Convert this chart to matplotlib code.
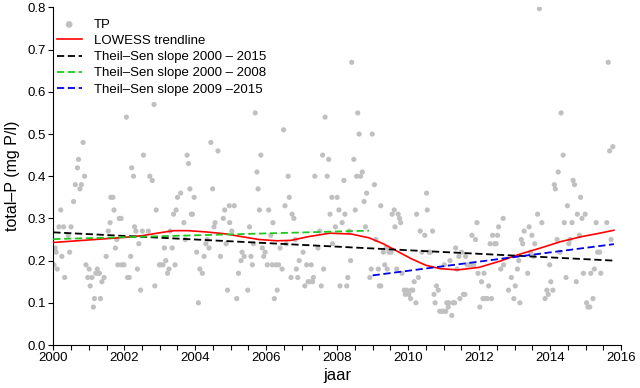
import matplotlib
matplotlib.use("Agg")
import matplotlib.pyplot as plt
from matplotlib.ticker import MultipleLocator, FormatStrFormatter

plt.rcParams['font.family'] = ['Liberation Sans', 'DejaVu Sans']

jaar_tp = [
    2000.02, 2000.05, 2000.08, 2000.11, 2000.16, 2000.21, 2000.24, 2000.29, 2000.32, 2000.42,
    2000.46, 2000.50, 2000.57, 2000.62, 2000.68, 2000.71, 2000.75, 2000.79, 2000.84, 2000.88,
    2000.92, 2000.97, 2001.01, 2001.04, 2001.09, 2001.13, 2001.16, 2001.20, 2001.24, 2001.27,
    2001.30, 2001.33, 2001.37, 2001.43, 2001.49, 2001.55, 2001.60, 2001.62, 2001.68, 2001.71,
    2001.75, 2001.79, 2001.82, 2001.86, 2001.91, 2001.93, 2001.99, 2002.06, 2002.09, 2002.14,
    2002.18, 2002.21, 2002.26, 2002.29, 2002.33, 2002.37, 2002.41, 2002.46, 2002.51, 2002.54,
    2002.68, 2002.72, 2002.79, 2002.84, 2002.86, 2002.90, 2002.99,
    2003.02, 2003.09, 2003.13, 2003.17, 2003.22, 2003.26, 2003.29, 2003.35, 2003.39, 2003.43,
    2003.46, 2003.50, 2003.59, 2003.68, 2003.72, 2003.77, 2003.81, 2003.85, 2003.89, 2003.92,
    2003.97, 2004.04, 2004.09, 2004.13, 2004.20, 2004.25, 2004.30, 2004.34, 2004.39, 2004.44,
    2004.49, 2004.53, 2004.56, 2004.64, 2004.71, 2004.79, 2004.83, 2004.87, 2004.91, 2004.97,
    2004.96, 2005.03, 2005.10, 2005.17, 2005.22, 2005.29, 2005.32, 2005.38, 2005.48, 2005.53,
    2005.57, 2005.61, 2005.64, 2005.69, 2005.74, 2005.77, 2005.81, 2005.85, 2005.89, 2005.93,
    2005.97, 2006.03, 2006.07, 2006.13, 2006.17, 2006.19, 2006.23,
    2006.27, 2006.31, 2006.35, 2006.39, 2006.45, 2006.49, 2006.53, 2006.57, 2006.62, 2006.65,
    2006.70, 2006.73, 2006.78, 2006.82, 2006.85, 2006.89, 2006.93, 2007.04, 2007.09, 2007.14,
    2007.18, 2007.23, 2007.27, 2007.31, 2007.33, 2007.37, 2007.46, 2007.51, 2007.55, 2007.59,
    2007.62, 2007.66, 2007.72, 2007.76, 2007.80, 2007.85, 2007.87, 2007.95, 2008.00, 2008.05,
    2008.08, 2008.14, 2008.19, 2008.22, 2008.27, 2008.30, 2008.34, 2008.38, 2008.41, 2008.47,
    2008.51, 2008.55, 2008.58, 2008.62, 2008.66, 2008.71, 2008.76, 2008.80, 2008.83, 2008.92,
    2008.96, 2008.99, 2009.05, 2009.09, 2009.16, 2009.19, 2009.23, 2009.23, 2009.30, 2009.34,
    2009.38, 2009.41,
    2009.46, 2009.52, 2009.55, 2009.61, 2009.63, 2009.68, 2009.72, 2009.76, 2009.79, 2009.83,
    2009.89, 2009.92, 2009.96, 2010.02, 2010.07, 2010.09, 2010.13, 2010.17, 2010.22, 2010.24,
    2010.29, 2010.34, 2010.39, 2010.47, 2010.52, 2010.54, 2010.59, 2010.63, 2010.69, 2010.73,
    2010.76, 2010.80, 2010.85, 2010.89, 2010.95, 2011.00, 2011.02, 2011.06, 2011.09, 2011.13,
    2011.15, 2011.18, 2011.23, 2011.27, 2011.31, 2011.34, 2011.38, 2011.43, 2011.46, 2011.51,
    2011.56, 2011.60, 2011.62, 2011.66, 2011.72, 2011.77, 2011.80, 2011.85, 2011.90, 2011.94,
    2011.97, 2012.02, 2012.07, 2012.11, 2012.14, 2012.18, 2012.23, 2012.27, 2012.31, 2012.35,
    2012.38, 2012.44, 2012.48, 2012.52, 2012.55, 2012.61, 2012.68, 2012.69,
    2012.83, 2012.91, 2012.98, 2013.02, 2013.08, 2013.12, 2013.15, 2013.19, 2013.23, 2013.27,
    2013.37, 2013.41, 2013.45, 2013.49, 2013.53, 2013.57, 2013.65, 2013.70, 2013.77, 2013.86,
    2013.91, 2013.95, 2013.99, 2014.02, 2014.08, 2014.12, 2014.15, 2014.20, 2014.23, 2014.28,
    2014.31, 2014.37, 2014.40, 2014.45, 2014.49, 2014.53, 2014.56, 2014.62, 2014.65, 2014.69,
    2014.74, 2014.77, 2014.83, 2014.86, 2014.90, 2014.94, 2014.99, 2015.03, 2015.07, 2015.12,
    2015.15, 2015.21, 2015.25, 2015.30, 2015.34, 2015.40, 2015.43, 2015.60, 2015.64, 2015.68,
    2015.72, 2015.77,
]
tp = [
    0.19, 0.23, 0.22, 0.18, 0.28, 0.32, 0.21, 0.28, 0.16, 0.26,
    0.22, 0.28, 0.34, 0.38, 0.42, 0.44, 0.37, 0.38, 0.48, 0.40,
    0.19, 0.16, 0.18, 0.14, 0.16, 0.09, 0.11, 0.17, 0.18, 0.17,
    0.17, 0.11, 0.15, 0.16, 0.21, 0.27, 0.29, 0.35, 0.35, 0.32,
    0.23, 0.25, 0.19, 0.30, 0.30, 0.19, 0.19, 0.54, 0.16, 0.16,
    0.21, 0.42, 0.40, 0.28, 0.27, 0.18, 0.24, 0.13, 0.27, 0.45,
    0.27, 0.40, 0.39, 0.57, 0.14, 0.32, 0.19,
    0.19, 0.19, 0.23, 0.20, 0.17, 0.18, 0.27, 0.23, 0.31, 0.19,
    0.32, 0.35, 0.36, 0.29, 0.25, 0.45, 0.43, 0.37, 0.31, 0.31,
    0.35, 0.22, 0.10, 0.18, 0.17, 0.21, 0.24, 0.25, 0.23, 0.48,
    0.37, 0.28, 0.29, 0.46, 0.21, 0.30, 0.32, 0.24, 0.13, 0.29,
    0.33, 0.27, 0.33, 0.11, 0.17, 0.20, 0.22, 0.21, 0.13, 0.28,
    0.21, 0.19, 0.24, 0.55, 0.41, 0.37, 0.32, 0.45, 0.23, 0.21,
    0.22, 0.19, 0.32, 0.26, 0.19, 0.29, 0.11,
    0.19, 0.13, 0.19, 0.23, 0.18, 0.51, 0.33, 0.24, 0.40, 0.35,
    0.16, 0.31, 0.30, 0.25, 0.18, 0.16, 0.20, 0.22, 0.14, 0.19,
    0.15, 0.15, 0.19, 0.15, 0.16, 0.40, 0.23, 0.27, 0.14, 0.45,
    0.18, 0.54, 0.40, 0.44, 0.31, 0.35, 0.24, 0.28, 0.35, 0.32,
    0.14, 0.29, 0.39, 0.31, 0.14, 0.16, 0.27, 0.20, 0.67, 0.44,
    0.32, 0.40, 0.55, 0.50, 0.40, 0.41, 0.34, 0.28, 0.36, 0.16,
    0.18, 0.50, 0.38, 0.25, 0.18, 0.14, 0.14, 0.33, 0.22, 0.19,
    0.23, 0.18,
    0.22, 0.22, 0.31, 0.32, 0.28, 0.18, 0.31, 0.30, 0.29, 0.17,
    0.13, 0.12, 0.13, 0.12, 0.11, 0.13, 0.13, 0.15, 0.10, 0.31,
    0.16, 0.27, 0.22, 0.26, 0.36, 0.32, 0.22, 0.22, 0.27, 0.12,
    0.10, 0.14, 0.13, 0.08, 0.08, 0.08, 0.19, 0.08, 0.10, 0.09,
    0.10, 0.20, 0.07, 0.10, 0.10, 0.23, 0.18, 0.21, 0.11, 0.22,
    0.12, 0.12, 0.21, 0.19, 0.19, 0.19, 0.26, 0.19, 0.25, 0.29,
    0.17, 0.09, 0.15, 0.11, 0.17, 0.11, 0.11, 0.14, 0.24, 0.11,
    0.26, 0.24, 0.24, 0.26, 0.28, 0.18, 0.30, 0.19,
    0.13, 0.16, 0.11, 0.14, 0.18, 0.20, 0.10, 0.25, 0.24, 0.27,
    0.17, 0.28, 0.22, 0.26, 0.21, 0.24, 0.31, 0.797, 0.29, 0.11,
    0.13, 0.12, 0.19, 0.15, 0.13, 0.38, 0.37, 0.25, 0.41, 0.22,
    0.55, 0.45, 0.29, 0.16, 0.33, 0.24, 0.25, 0.29, 0.39, 0.38,
    0.15, 0.31, 0.26, 0.35, 0.30, 0.17, 0.31, 0.10, 0.09, 0.09,
    0.17, 0.11, 0.18, 0.29, 0.22, 0.22, 0.17, 0.29, 0.67, 0.46,
    0.25, 0.47,
]

jaar_lowess = [2000.0, 2000.5, 2001.0, 2001.5, 2002.0, 2002.5, 2003.0, 2003.4, 2003.8, 2004.3,
               2004.8, 2005.3, 2005.8, 2006.3, 2006.7, 2007.2, 2007.8, 2008.4, 2008.9, 2009.3,
               2009.7, 2010.1, 2010.5, 2010.9, 2011.4, 2012.0, 2012.6, 2013.1, 2013.7, 2014.3,
               2014.9, 2015.4, 2015.8]
tp_lowess = [0.243, 0.246, 0.249, 0.252, 0.255, 0.259, 0.266, 0.271, 0.271, 0.268,
             0.264, 0.257, 0.250, 0.247, 0.248, 0.257, 0.265, 0.263, 0.254, 0.240,
             0.222, 0.204, 0.189, 0.181, 0.178, 0.184, 0.199, 0.214, 0.229, 0.245,
             0.257, 0.265, 0.272]

# Theil-Sen lijnen (begin- en eindpunt)
ts_2000_2015_x = [2000.0, 2015.8]
ts_2000_2015_y = [0.267, 0.200]
ts_2000_2008_x = [2000.0, 2008.9]
ts_2000_2008_y = [0.251, 0.271]
ts_2009_2015_x = [2009.0, 2015.8]
ts_2009_2015_y = [0.165, 0.239]

fig = plt.figure(figsize=(6.4, 3.88), dpi=100)
ax = fig.add_axes([0.0833, 0.1108, 0.887, 0.870])

ax.scatter(jaar_tp, tp, s=14, color='#c0c0c0', edgecolors='none', label='TP', zorder=2)
ax.plot(jaar_lowess, tp_lowess, color='#ff0000', lw=1.2, label='LOWESS trendline', zorder=3)
ax.plot(ts_2000_2015_x, ts_2000_2015_y, color='black', lw=1.3, dashes=(4, 2),
        label='Theil\u2013Sen slope 2000 \u2013 2015', zorder=3)
ax.plot(ts_2000_2008_x, ts_2000_2008_y, color='#1ec81e', lw=1.3, dashes=(4, 2),
        label='Theil\u2013Sen slope 2000 \u2013 2008', zorder=3)
ax.plot(ts_2009_2015_x, ts_2009_2015_y, color='#0000e6', lw=1.3, dashes=(4, 2),
        label='Theil\u2013Sen slope 2009 \u20132015', zorder=3)

ax.set_xlim(2000, 2016)
ax.set_ylim(0, 0.8)
ax.xaxis.set_major_locator(MultipleLocator(2))
ax.xaxis.set_minor_locator(MultipleLocator(0.5))
ax.yaxis.set_major_locator(MultipleLocator(0.1))
ax.yaxis.set_major_formatter(FormatStrFormatter('%.1f'))
ax.tick_params(which='both', direction='out', length=3.5, width=0.8, labelsize=9.5, pad=1.5)

for kant in ['top', 'right']:
    ax.spines[kant].set_visible(False)
for kant in ['left', 'bottom']:
    ax.spines[kant].set_linewidth(0.8)

ax.set_xlabel('jaar', fontsize=12, labelpad=3)
ax.set_ylabel('total\u2013P (mg P/l)', fontsize=11.5, labelpad=6)

ax.legend(loc='upper left', bbox_to_anchor=(-0.014, 1.0), frameon=False, fontsize=9.5,
          handlelength=1.9, handletextpad=0.9, labelspacing=0.3, borderaxespad=0.45,
          markerscale=1.3)

fig.savefig('out.png', dpi=100)
